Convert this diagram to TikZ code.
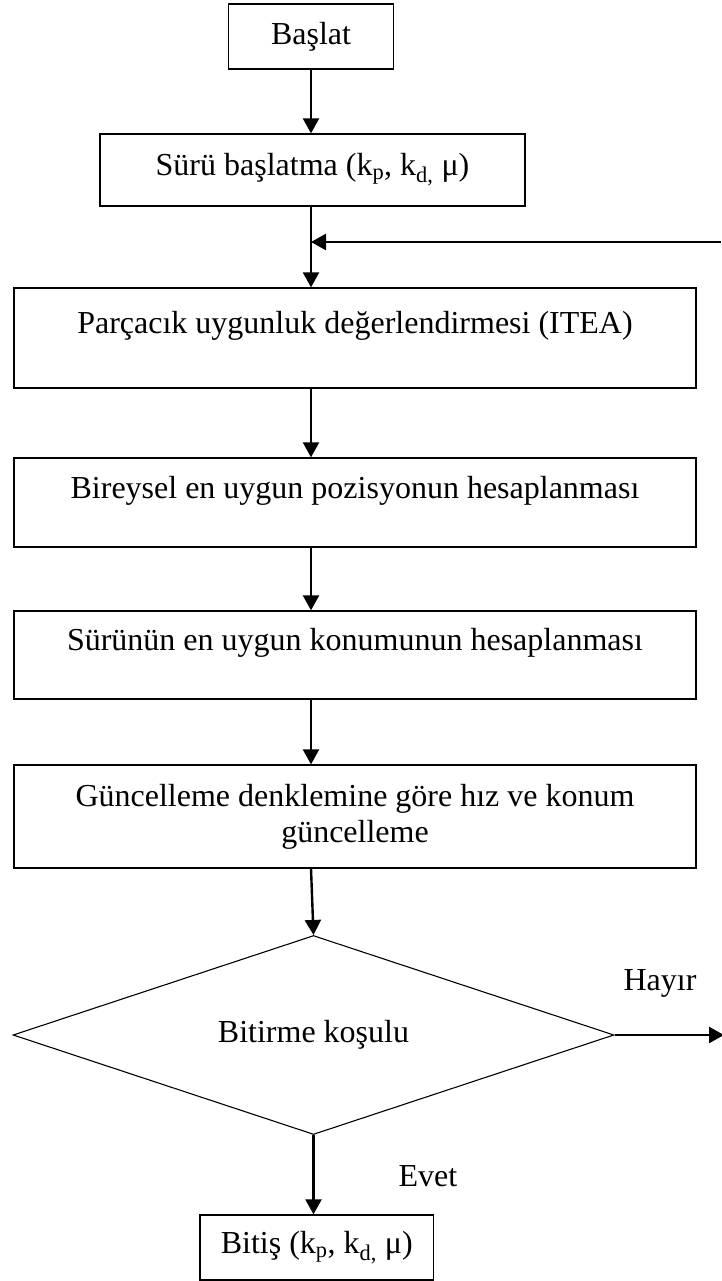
\documentclass[tikz,border=0pt]{standalone}
\usepackage{fontspec}
\setmainfont{Liberation Serif}
\usetikzlibrary{shapes.geometric, arrows.meta}

\tikzset{
	box/.style={draw, line width=1.3pt, inner sep=0pt, align=center, font=\fontsize{32}{36}\selectfont},
	cond/.style={diamond, aspect=3, draw, line width=1.1pt, inner sep=0pt, font=\fontsize{32}{36}\selectfont},
	lbl/.style={font=\fontsize{32}{36}\selectfont},
	arr/.style={line width=2.4pt, -{Triangle[length=15pt,width=16pt]}}
}

\begin{document}
\begin{tikzpicture}[x=1pt,y=-1pt]
	\useasboundingbox (0,0) rectangle (721,1281);

	\node[box, minimum width=165.5pt, minimum height=65pt] (start) at (311,36.5) {Başlat};
	\node[box, minimum width=425pt, minimum height=72pt] (init) at (312.5,170) {Sürü başlatma (k\textsubscript{p}, k\textsubscript{d,} μ)};
	\node[box, minimum width=682pt, minimum height=100pt] (eval) at (355,338) {Parçacık uygunluk değerlendirmesi (ITEA)\\[-16pt] \strut};
	\node[box, minimum width=682pt, minimum height=89pt] (pbest) at (355,502.5) {Bireysel en uygun pozisyonun hesaplanması\\[-16pt] \strut};
	\node[box, minimum width=682pt, minimum height=88pt] (gbest) at (355,655) {Sürünün en uygun konumunun hesaplanması\\[-16pt] \strut};
	\node[box, minimum width=682pt, minimum height=103pt] (update) at (355,816.5) {Güncelleme denklemine göre hız ve konum\\güncelleme};
	\node[cond, minimum width=601pt, minimum height=199pt] (stop) at (313.5,1035) {Bitirme koşulu};
	\node[box, minimum width=233.5pt, minimum height=65pt] (finish) at (316.75,1247.5) {Bitiş (k\textsubscript{p}, k\textsubscript{d,} μ)};

	\node[lbl] (no) at (660,983) {Hayır};
	\node[lbl] (yes) at (428,1176) {Evet};

	\coordinate (back) at (721,242);
	\coordinate (join) at (311,242);
	\coordinate (out) at (724,1035);

	\draw[arr] (start.south) -- (start.south |- init.north);
	\draw[arr] (start |- init.south) -- (start |- eval.north);
	\draw[arr] (back) -- (join);
	\draw[arr] (start |- eval.south) -- (start |- pbest.north);
	\draw[arr] (start |- pbest.south) -- (start |- gbest.north);
	\draw[arr] (start |- gbest.south) -- (start |- update.north);
	\draw[arr] (start |- update.south) -- (stop.north);
	\draw[arr] (stop.east) -- (out);
	\draw[arr] (stop.south) -- (stop.south |- finish.north);
\end{tikzpicture}
\end{document}
